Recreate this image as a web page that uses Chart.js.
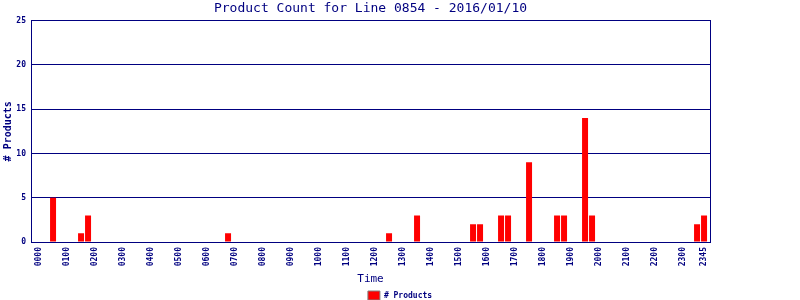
<!DOCTYPE html>
<html lang="en">
<head>
  <meta charset="UTF-8" />
  <title>Product Count for Line 0854</title>
  <style>
    html, body { margin: 0; padding: 0; background: #fff; }
    #wrap { width: 800px; height: 300px; }
  </style>
</head>
<body>
  <div id="wrap"><canvas id="grafico"></canvas></div>

  <script src="https://cdn.jsdelivr.net/npm/chart.js"></script>
  <script>
    // time slots, 15 minutes each
    const timeLabels = [];
    ['00','01','02','03','04','05','06','07','08','09','10','11',
     '12','13','14','15','16','17','18','19','20','21','22','23'].forEach(h => {
      ['00', '15', '30', '45'].forEach(m => timeLabels.push(h + m));
    });

    // products per slot, one row per hour (xx00, xx15, xx30, xx45)
    const productCounts = [
      0, 0, 5, 0,   0, 0, 1, 3,   0, 0, 0, 0,   0, 0, 0, 0,
      0, 0, 0, 0,   0, 0, 0, 0,   0, 0, 0, 1,   0, 0, 0, 0,
      0, 0, 0, 0,   0, 0, 0, 0,   0, 0, 0, 0,   0, 0, 0, 0,
      0, 0, 1, 0,   0, 0, 3, 0,   0, 0, 0, 0,   0, 0, 2, 2,
      0, 0, 3, 3,   0, 0, 9, 0,   0, 0, 3, 3,   0, 0, 14, 3,
      0, 0, 0, 0,   0, 0, 0, 0,   0, 0, 0, 0,   0, 0, 2, 3
    ];

    // slots that get a tick label
    const labeledSlots = [0, 4, 8, 12, 16, 20, 24, 28, 32, 36, 40, 44,
                          48, 52, 56, 60, 64, 68, 72, 76, 80, 84, 88, 92, 95];
    const yTicks = [0, 5, 10, 15, 20, 25];

    const navy = '#000080';
    Chart.defaults.color = navy;
    Chart.defaults.font.family = "'DejaVu Sans Mono', monospace";

    new Chart(document.getElementById('grafico'), {
      type: 'bar',
      data: {
        datasets: [{
          label: '# Products',
          data: productCounts.map((v, i) => ({ x: i, y: v })),
          backgroundColor: '#ff0000',
          borderColor: '#ff0000',
          borderWidth: 0,
          inflateAmount: 0,
          barThickness: 6
        }]
      },
      options: {
        responsive: true,
        maintainAspectRatio: false,
        animation: false,
        layout: { padding: { left: 0, right: 0, top: 0, bottom: -10 } },
        plugins: {
          title: {
            display: true,
            fullSize: false,
            text: 'Product Count for Line 0854 - 2016/01/10',
            color: navy,
            font: { size: 13, weight: 'normal' },
            padding: { top: 1, bottom: 4 }
          },
          legend: {
            position: 'bottom',
            labels: {
              boxWidth: 12,
              boxHeight: 9,
              padding: 3,
              color: navy,
              font: { size: 8, weight: 'bold' },
              generateLabels: chart => [{
                text: '# Products',
                fillStyle: '#ff0000',
                strokeStyle: '#808080',
                lineWidth: 1,
                fontColor: navy,
                datasetIndex: 0
              }]
            }
          },
          tooltip: { enabled: false }
        },
        scales: {
          x: {
            type: 'linear',
            offset: false,
            min: -1.15,
            max: 95.85,
            afterBuildTicks: s => { s.ticks = labeledSlots.map(v => ({ value: v })); },
            afterFit: s => { s.height = 46; },
            ticks: {
              autoSkip: false,
              minRotation: 90,
              maxRotation: 90,
              padding: 5,
              color: navy,
              font: { size: 8, weight: 'bold' },
              callback: v => timeLabels[v]
            },
            grid: { display: false, drawTicks: false },
            border: { display: true, color: navy, width: 1 },
            title: {
              display: true,
              text: 'Time',
              color: navy,
              font: { size: 11 },
              padding: { top: 0, bottom: 2 }
            }
          },
          y: {
            min: 0,
            max: 25,
            afterBuildTicks: s => { s.ticks = yTicks.map(v => ({ value: v })); },
            afterFit: s => { s.width = 31; },
            ticks: {
              padding: 5,
              color: navy,
              font: { size: 8, weight: 'bold' }
            },
            grid: { color: navy, lineWidth: 1, drawTicks: false },
            border: { display: true, color: navy, width: 1 },
            title: {
              display: true,
              text: '# Products',
              color: navy,
              font: { size: 10, weight: 'bold' },
              padding: { top: 2, bottom: 0 }
            }
          },
          // right side of the frame, leaves the empty margin
          yRight: {
            position: 'right',
            min: 0,
            max: 25,
            afterFit: s => { s.width = 90; },
            ticks: { display: false },
            grid: { display: false, drawTicks: false },
            border: { display: true, color: navy, width: 1 }
          }
        }
      }
    });
  </script>
</body>
</html>
